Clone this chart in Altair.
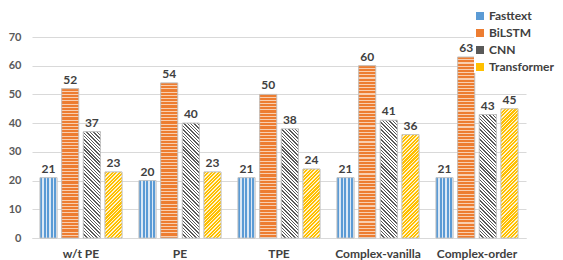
import math
import altair as alt
import pandas as pd

categories = ["w/t PE", "PE", "TPE", "Complex-vanilla", "Complex-order"]
series = ["Fasttext", "BiLSTM", "CNN", "Transformer"]
fasttext = [21, 20, 21, 21, 21]
bilstm = [52, 54, 50, 60, 63]
cnn = [37, 40, 38, 41, 43]
transformer = [23, 23, 24, 36, 45]
values_by_series = [fasttext, bilstm, cnn, transformer]

base_colors = ["#5B9BD5", "#ED7D31", "#595959", "#FFC000"]
line_colors = ["#dbe8f5", "#f9cfb0", "#ffffff", "#fff4cf"]

PLOT_W, PLOT_H = 494, 201
YMAX = 70
BAR_W = 17.0

rows = []
for s, vals in zip(series, values_by_series):
    for c, v in zip(categories, vals):
        rows.append({"category": c, "series": s, "value": v})
df = pd.DataFrame(rows)


def stripe_stops(c1, c2, n, frac):
    stops = []
    k = 0
    while k / n < 1:
        a = k / n
        b = min((k + frac) / n, 1.0)
        e = min((k + 1) / n, 1.0)
        stops += [(a, c1), (b, c1)]
        if b < 1:
            stops += [(b, c2), (e, c2)]
        k += 1
    return [{"offset": round(o, 5), "color": c} for o, c in stops]


def gradient_for(si, v):
    w = BAR_W
    h = v * PLOT_H / YMAX
    c1, c2 = base_colors[si], line_colors[si]
    if si == 0:  # vertical stripes
        n = w / 3.5
        return {"gradient": "linear", "x1": 0, "y1": 0, "x2": 1, "y2": 0,
                "stops": stripe_stops(c1, c2, n, 0.68)}
    if si == 1:  # horizontal stripes
        n = h / 3.2
        return {"gradient": "linear", "x1": 0, "y1": 0, "x2": 0, "y2": 1,
                "stops": stripe_stops(c1, c2, n, 0.68)}
    a = (w + h) / (w * w + h * h)
    if si == 2:  # "\" hatch
        n = (w + h) / (math.sqrt(2) * 2.4)
        return {"gradient": "linear", "x1": 0, "y1": 1, "x2": a * w, "y2": 1 - a * h,
                "stops": stripe_stops(c1, c2, n, 0.42)}
    n = (w + h) / (math.sqrt(2) * 2.5)  # "/" hatch
    return {"gradient": "linear", "x1": 0, "y1": 0, "x2": a * w, "y2": a * h,
            "stops": stripe_stops(c1, c2, n, 0.6)}


FONT = "Lato"
x_enc = alt.X("category:N", sort=categories,
              scale=alt.Scale(domain=categories, paddingInner=0.172, paddingOuter=0.081),
              axis=alt.Axis(title=None, labelAngle=0, ticks=False, domain=True,
                            domainColor="#d9d9d9", labelFont=FONT, labelFontSize=12,
                            labelFontWeight="bold", labelColor="#404040", labelPadding=10))
xo_enc = alt.XOffset("series:N", sort=series,
                     scale=alt.Scale(domain=series, paddingInner=0.215, paddingOuter=0))
y_enc = alt.Y("value:Q", scale=alt.Scale(domain=[0, YMAX]),
              axis=alt.Axis(title=None, values=list(range(0, 71, 10)), ticks=False,
                            domain=False, grid=True, gridColor="#d9d9d9",
                            labelFont=FONT, labelFontSize=11, labelFontWeight="bold",
                            labelColor="#595959", labelPadding=11))

base = alt.Chart(df).mark_bar(stroke="#c4c4c4", strokeWidth=0.8).encode(
    x=x_enc, xOffset=xo_enc, y=y_enc,
    color=alt.Color("series:N", sort=series,
                    scale=alt.Scale(domain=series, range=base_colors),
                    legend=alt.Legend(title=None, orient="none", legendX=442, legendY=-27,
                                      symbolType="square", symbolSize=64,
                                      symbolStrokeWidth=0, labelFont=FONT,
                                      labelFontSize=12, labelFontWeight="bold",
                                      labelColor="#404040", rowPadding=5,
                                      fillColor="white", padding=0, labelOffset=3)),
)

layers = [base]
for si, (s, vals) in enumerate(zip(series, values_by_series)):
    for c, v in zip(categories, vals):
        layers.append(
            alt.Chart(df).transform_filter(
                (alt.datum.series == s) & (alt.datum.category == c)
            ).mark_bar(fill=gradient_for(si, v), stroke="#c4c4c4", strokeWidth=0.8)
            .encode(x=x_enc, xOffset=xo_enc, y=y_enc)
        )

text = alt.Chart(df).mark_text(dy=-9, font=FONT, fontSize=12, fontWeight="bold",
                               color="#404040").encode(
    x=x_enc, xOffset=xo_enc, y=y_enc, text=alt.Text("value:Q"))
layers.append(text)

chart = alt.layer(*layers).properties(
    width=PLOT_W, height=PLOT_H,
    autosize=alt.AutoSizeParams(type="none"),
    padding={"left": 24, "top": 29, "right": 29, "bottom": 22},
).configure_view(stroke=None).configure_legend(
    fillColor="white")

chart.save("out.html", embed_options={"renderer": "svg", "actions": False})
